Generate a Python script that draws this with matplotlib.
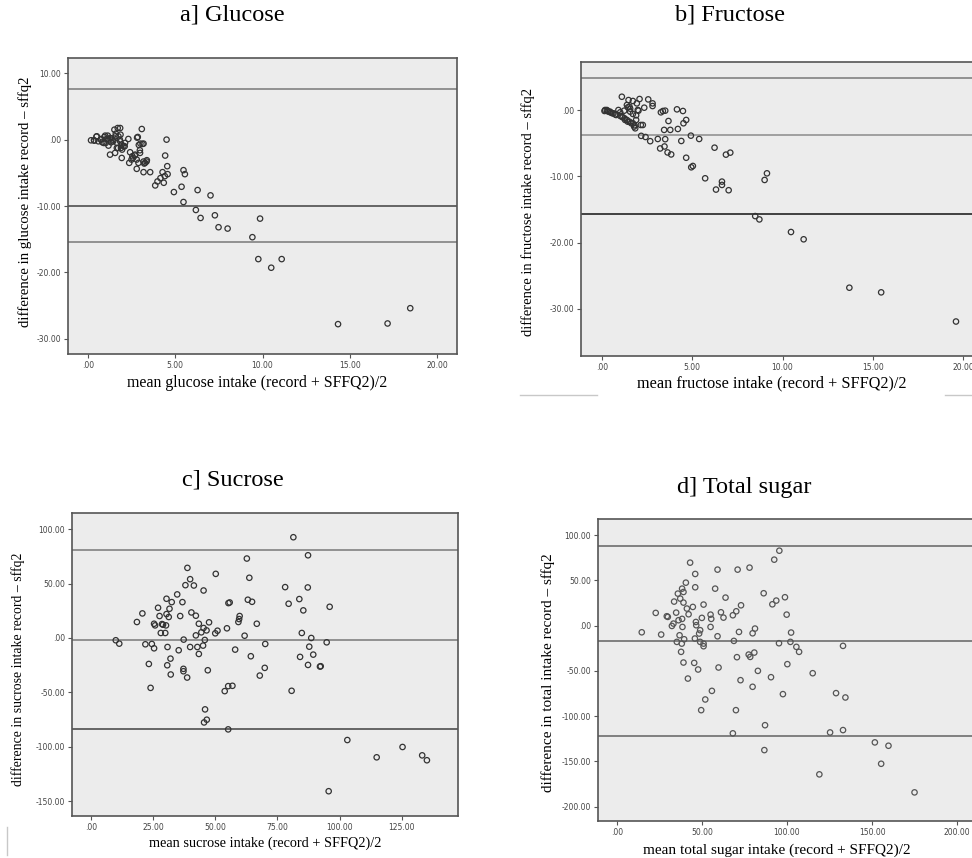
import matplotlib
matplotlib.use('Agg')
import matplotlib.pyplot as plt
from matplotlib.lines import Line2D

# Bland-Altman plots: record vs SFFQ2

glucose_x = [0.17, 0.36, 0.5, 0.59, 0.75, 0.82, 0.94, 1.01, 1.07, 1.17, 1.13, 1.26, 1.32, 1.4,
             1.51, 1.59, 1.7, 1.84, 1.74, 1.84, 1.93, 2.03, 2.12, 1.89, 1.65, 1.55, 1.26, 2.31,
             1.93, 2.41, 2.54, 2.7, 2.79, 2.89, 2.98, 3.08, 2.85, 3.0, 3.18, 3.18, 3.27, 3.37,
             2.79, 3.18, 3.56, 0.34, 0.48, 0.73, 0.9, 0.98, 1.17, 1.34, 1.44, 1.57, 1.66, 1.72,
             1.82, 1.86, 1.95, 2.1, 2.36, 2.49, 2.58, 2.68, 2.81, 2.91, 2.97, 3.12, 3.22, 3.35,
             3.85, 3.98, 4.15, 4.27, 4.34, 4.4, 4.42, 4.5, 4.54, 4.56, 4.92, 5.36, 5.47, 5.47,
             5.55, 6.18, 6.28, 6.45, 7.02, 7.27, 7.48, 8.0, 9.42, 9.76, 9.86, 10.5, 11.1, 14.33,
             17.17, 18.47]
glucose_y = [-0.1, -0.15, 0.5, -0.25, 0.1, -0.4, 0.4, -0.5, 0.1, -0.9, 0.6, 0.25, -0.4, 0.0,
             1.5, 0.9, 1.75, 1.75, 0.5, -0.25, -0.75, -1.0, -0.5, -1.25, -1.25, -2.0, -2.26, 0.1,
             -2.76, -1.9, -2.5, -2.26, -3.0, -3.5, -2.0, 1.6, 0.4, -0.6, -0.6, -3.3, -3.5, -3.1,
             -4.4, -4.9, -4.9, -0.1, 0.45, 0.0, -0.5, 0.6, 0.0, 0.2, -0.25, 0.5, -0.5, -1.26,
             0.0, 0.75, -1.5, -1.0, -3.5, -3.0, -2.76, -2.4, 0.3, -0.8, -1.6, -0.65, -3.6, -3.3,
             -6.9, -6.3, -5.8, -4.9, -6.5, -5.5, -2.4, 0.0, -4.0, -5.2, -7.9, -7.1, -4.6, -9.4,
             -5.2, -10.6, -7.6, -11.8, -8.4, -11.4, -13.2, -13.4, -14.7, -18.0, -11.9, -19.3, -18.0, -27.8,
             -27.7, -25.4]
glucose_lines = [7.6, -10.0, -15.4]

fructose_x = [0.15, 0.28, 0.37, 0.5, 0.65, 0.79, 0.92, 1.02, 1.11, 1.16, 1.24, 1.29, 1.39, 1.44,
              1.48, 1.53, 1.57, 1.63, 1.72, 1.79, 1.85, 1.9, 1.94, 2.03, 2.09, 2.16, 2.27, 2.35,
              2.18, 2.42, 2.57, 2.68, 2.81, 2.81, 3.1, 3.23, 3.27, 3.38, 3.45, 3.51, 3.47, 3.51,
              3.64, 3.69, 3.79, 3.84, 4.16, 4.21, 4.4, 4.49, 4.52, 4.67, 4.67, 4.93, 4.95, 5.04,
              5.39, 5.72, 6.24, 6.32, 6.65, 6.65, 6.87, 7.02, 7.11, 8.49, 8.72, 9.01, 9.14, 10.47,
              11.17, 13.7, 15.46, 19.6,
              0.18, 0.33, 0.46, 0.59, 0.74, 1.02, 1.11, 1.26, 1.39, 1.53, 1.72, 1.81, 1.9, 1.44,
              1.57, 1.72, 1.99]
fructose_y = [-0.15, 0.0, -0.25, -0.4, -0.5, -0.75, 0.0, -0.9, 2.0, -1.1, -0.1, -1.5, 0.75, -1.76,
              1.5, 0.5, -0.25, -2.0, 1.36, -2.5, -2.76, -1.5, 1.0, -0.1, 1.66, -2.26, -2.26, 0.35,
              -3.9, -4.07, 1.6, -4.7, 1.0, 0.6, -4.37, -5.8, -0.35, -0.15, -3.0, -4.4, -5.5, -0.1,
              -6.4, -1.66, -3.0, -6.7, 0.1, -2.86, -4.67, -0.15, -2.0, -1.5, -7.2, -3.87, -8.64, -8.44,
              -4.37, -10.3, -5.68, -12.0, -10.8, -11.3, -6.73, -12.1, -6.43, -16.0, -16.5, -10.55, -9.55, -18.4,
              -19.5, -26.8, -27.5, -31.9,
              0.0, -0.15, -0.25, -0.5, -0.65, -0.35, -1.0, -1.26, -1.5, -1.76, -2.0, -2.3, -0.8, 0.4,
              0.2, -0.6, 0.0]
fructose_lines = [4.9, -3.75, -15.7]

sucrose_x = [10.0, 11.4, 18.5, 20.7, 21.9, 23.3, 24.0, 24.5, 25.4, 25.4, 25.8, 27.0, 27.6, 28.1,
             28.6, 29.0, 29.9, 30.2, 30.4, 30.4, 30.8, 30.7, 31.3, 31.6, 32.0, 32.1, 32.5, 34.7,
             35.3, 35.9, 36.8, 37.3, 37.2, 37.2, 38.0, 38.7, 38.8, 39.9, 39.9, 40.4, 41.4, 42.2,
             42.2, 42.8, 43.4, 43.4, 44.4, 45.1, 45.3, 45.3, 45.8, 45.9, 45.5, 46.6, 46.5, 47.0,
             47.5, 50.0, 50.2, 50.9, 53.8, 54.7, 55.3, 55.8, 55.2, 56.9, 55.2, 58.0, 59.3, 59.6,
             59.8, 61.8, 62.7, 63.1, 63.7, 64.3, 64.8, 66.7, 67.9, 69.9, 70.1, 78.1, 79.5, 80.7,
             81.4, 83.8, 84.1, 84.8, 85.4, 87.3, 87.2, 87.3, 87.8, 88.6, 89.4, 92.1, 92.4, 94.8,
             96.0, 95.6, 103.1, 114.9, 125.3, 133.2, 135.1]
sucrose_y = [-2.1, -5.2, 14.7, 22.6, -5.8, -23.9, -45.9, -5.5, -9.5, 13.1, 11.6, 27.8, 20.2, 4.6,
             12.8, 12.2, 4.6, 11.6, 36.1, 22.0, -8.3, -25.1, 19.3, 26.9, -19.0, -33.6, 33.0, 40.1,
             -11.3, 20.2, 33.0, -1.5, -28.4, -30.6, 48.6, -36.4, 64.5, 54.1, -8.3, 23.5, 48.3, 20.5,
             2.4, -8.3, 13.1, -14.7, 5.2, -7.0, 43.7, 9.2, -1.8, -65.7, -77.7, -75.2, 7.0, -29.7,
             14.4, 4.3, 59.0, 6.7, -48.9, 8.9, 32.1, 32.7, -44.3, -44.0, -84.1, -10.7, 14.7, 17.4,
             20.2, 2.1, 73.1, 35.2, 55.4, -16.8, 33.3, 13.1, -34.6, -27.5, -5.5, 46.8, 31.5, -48.6,
             92.7, 35.8, -17.4, 4.6, 25.4, 76.1, 46.5, -24.8, -8.0, 0.0, -15.3, -26.3, -26.0, -4.0,
             28.7, -141.0, -93.9, -109.8, -100.3, -108.0, -112.5]
sucrose_lines = [81.0, -2.1, -84.2]

total_x = [14.7, 22.9, 26.1, 29.4, 30.0, 32.4, 33.3, 33.7, 34.9, 35.3, 35.9, 36.3, 36.9, 37.3,
           37.8, 38.4, 38.4, 38.6, 39.2, 39.2, 39.2, 39.6, 38.2, 40.6, 41.2, 42.2, 41.8, 43.1,
           44.7, 45.5, 45.9, 46.1, 46.1, 46.5, 46.7, 47.8, 48.4, 49.0, 49.0, 49.6, 50.0, 51.0,
           51.0, 51.0, 52.0, 55.1, 55.5, 55.1, 55.9, 57.8, 59.2, 59.2, 59.8, 61.2, 62.7, 63.9,
           68.2, 68.8, 68.2, 70.2, 71.0, 70.6, 70.0, 71.8, 73.0, 72.7, 78.0, 77.5, 78.4, 79.8,
           79.8, 80.8, 81.2, 82.9, 86.3, 87.1, 86.7, 90.6, 91.4, 92.5, 93.7, 95.3, 95.5, 97.6,
           98.8, 99.8, 100.2, 102.0, 102.4, 105.5, 107.1, 115.1, 119.0, 125.3, 128.8, 132.9, 132.9,
           134.3, 151.6, 155.3, 159.6, 174.9]
total_y = [-7.4, 14.0, -9.9, 10.3, 9.6, -0.4, 2.2, 26.5, 14.3, -18.0, 35.3, 5.9, -10.7, 29.8,
           -29.0, 7.4, 40.8, -1.5, 37.1, 25.4, -40.8, -15.1, -19.9, 47.4, 18.8, 12.5, -58.5, 69.5,
           20.6, -41.2, -14.3, 57.0, 42.3, 4.0, 0.4, -48.5, -8.8, -5.1, -18.0, -93.4, 8.5, 23.2,
           -19.9, -22.8, -81.6, 12.1, 7.4, -1.5, -72.1, 40.8, 61.8, -11.8, -46.3, 14.7, 8.8, 30.9,
           11.4, -16.9, -119.0, 15.8, 61.8, -34.9, -93.4, -7.0, 22.4, -60.3, 64.0, -32.0, -34.6, -8.5,
           -67.6, -29.8, -3.3, -50.0, 35.7, -110.0, -137.5, -57.0, 23.5, 72.8, 27.6, -19.5, 82.7, -75.7,
           31.3, 12.1, -42.6, -18.0, -7.7, -23.5, -29.0, -52.6, -164.3, -118.0, -74.6, -22.4, -115.4,
           -79.4, -129.0, -152.6, -132.7, -184.2]
total_lines = [88.0, -16.8, -121.8]

titles = ['a] Glucose', 'b] Fructose', 'c] Sucrose', 'd] Total sugar']
xlabels = ['mean glucose intake (record + SFFQ2)/2',
           'mean fructose intake (record + SFFQ2)/2',
           'mean sucrose intake (record + SFFQ2)/2',
           'mean total sugar intake (record + SFFQ2)/2']
ylabels = ['difference in glucose intake record \u2013 sffq2',
           'difference in fructose intake record \u2013 sffq2',
           'difference in sucrose intake record \u2013 sffq2',
           'difference in total intake record \u2013 sffq2']

W, H = 972, 858
fig = plt.figure(figsize=(W / 100, H / 100), dpi=100)
fig.patch.set_facecolor('white')


def px_axes(left, top, width, height):
    return fig.add_axes([left / W, 1 - (top + height) / H, width / W, height / H])


def fmt(v):
    s = '%.2f' % v
    return s.replace('0.00', '.00') if abs(v) < 1e-9 else s


panels = [
    # axes box (px), xlim, ylim, xticks, yticks, data, lines, line colours, marker colour
    ((68, 58, 389, 296), (-1.15, 21.15), (-32.3, 12.3), [0, 5, 10, 15, 20], [10, 0, -10, -20, -30],
     glucose_x, glucose_y, glucose_lines, ['#8a8a8a', '#5a5a5a', '#8a8a8a'], '#333333'),
    ((581, 62, 403, 294), (-1.15, 21.15), (-37.1, 7.24), [0, 5, 10, 15, 20], [0, -10, -20, -30],
     fructose_x, fructose_y, fructose_lines, ['#8a8a8a', '#9a9a9a', '#333333'], '#333333'),
    ((72, 513, 386, 303), (-7.6, 147.6), (-163.8, 115), [0, 25, 50, 75, 100, 125],
     [100, 50, 0, -50, -100, -150],
     sucrose_x, sucrose_y, sucrose_lines, ['#8a8a8a', '#8a8a8a', '#5a5a5a'], '#333333'),
    ((598, 519, 378, 302), (-11, 211), (-215.8, 117.7), [0, 50, 100, 150, 200],
     [100, 50, 0, -50, -100, -150, -200],
     total_x, total_y, total_lines, ['#777777', '#777777', '#777777'], '#555555'),
]

for box, xlim, ylim, xt, yt, xs, ys, lines, lcols, mcol in panels:
    ax = px_axes(*box)
    ax.set_facecolor('#ececec')
    for lv, lc in zip(lines, lcols):
        ax.axhline(lv, color=lc, linewidth=1.3, zorder=1)
    ax.scatter(xs, ys, s=15, facecolors='none', edgecolors=mcol, linewidths=0.9, zorder=3)
    ax.set_xlim(*xlim)
    ax.set_ylim(*ylim)
    ax.set_xticks(xt)
    ax.set_xticklabels([fmt(v) for v in xt])
    ax.set_yticks(yt)
    ax.set_yticklabels([fmt(v) for v in yt])
    ax.tick_params(labelsize=5.5, labelcolor='#444444', color='#555555', length=3, width=0.8, pad=2)
    for sp in ax.spines.values():
        sp.set_color('#555555')
        sp.set_linewidth(1.2)

serif = ['Liberation Serif', 'DejaVu Serif']
title_pos = [(232, 15), (730, 15), (233, 480), (744, 487)]
xlabel_pos = [(257, 383), (772, 383), (265, 843), (777, 850)]
ylabel_pos = [(25, 202), (528, 212), (18, 669), (548, 673)]
xl_size = [11.4, 11.7, 10.3, 11.0]
yl_size = [10.6, 10.5, 9.9, 11.0]
for i in range(4):
    fig.text(title_pos[i][0] / W, 1 - title_pos[i][1] / H, titles[i], family=serif,
             fontsize=17.5, ha='center', va='center')
    fig.text(xlabel_pos[i][0] / W, 1 - xlabel_pos[i][1] / H, xlabels[i], family=serif,
             fontsize=xl_size[i], ha='center', va='center')
    fig.text(ylabel_pos[i][0] / W, 1 - ylabel_pos[i][1] / H, ylabels[i], family=serif,
             fontsize=yl_size[i], ha='center', va='center', rotation=90)

# faint scan leftovers around the panels
for (x0, y0, x1, y1) in [(520, 395, 597, 395), (945, 395, 972, 395), (7, 827, 7, 855)]:
    fig.add_artist(Line2D([x0 / W, x1 / W], [1 - y0 / H, 1 - y1 / H], color='#c8c8c8',
                          linewidth=1, transform=fig.transFigure))

fig.savefig('out.png', dpi=100, facecolor='white')
